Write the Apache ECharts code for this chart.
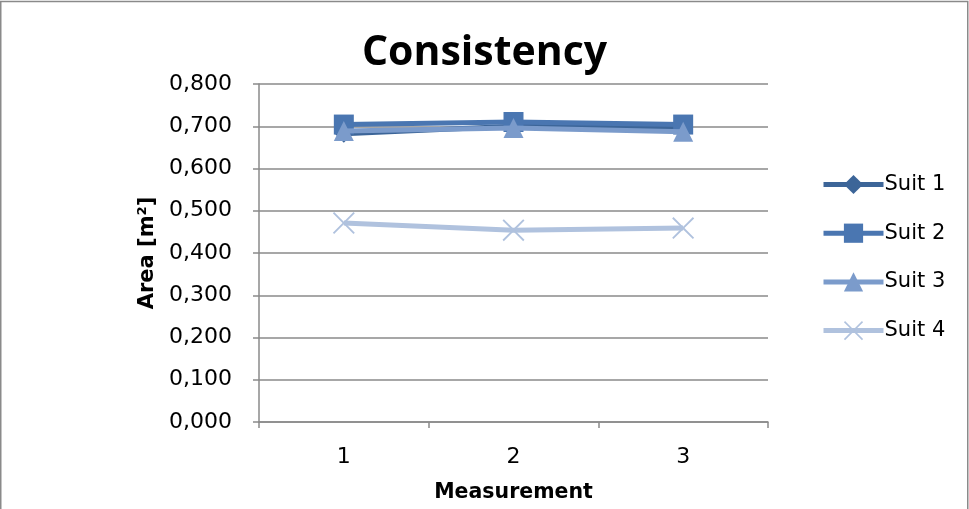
<!DOCTYPE html>
<html>
<head>
<meta charset="utf-8">
<script src="https://cdn.jsdelivr.net/npm/echarts@6/dist/echarts.min.js"></script>
<style>html,body{margin:0;padding:0;background:#fff}#c{width:969px;height:509px}</style>
</head>
<body>
<div id="c"></div>
<script>
const categories = ['1', '2', '3'];
const seriesNames = ['Suit 1', 'Suit 2', 'Suit 3', 'Suit 4'];
const suit1 = [0.682, 0.700, 0.695];
const suit2 = [0.704, 0.710, 0.704];
const suit3 = [0.689, 0.696, 0.687];
const suit4 = [0.471, 0.454, 0.459];
const yTicks = { min: 0, max: 0.8, interval: 0.1 };

const colors = ['#3C6598', '#4A76B1', '#7B9BCB', '#B0C2DE'];
const symbols = ['diamond', 'rect', 'triangle',
  'path://M0,1.2L1.2,0L10,8.8L18.8,0L20,1.2L11.2,10L20,18.8L18.8,20L10,11.2L1.2,20L0,18.8L8.8,10Z'];
const sizes = [18, 20, 20, 22];
const data = [suit1, suit2, suit3, suit4];
const FONT = 'DejaVu Sans';

const chart = echarts.init(document.getElementById('c'), null, { renderer: 'canvas' });
chart.setOption({
  animation: false,
  backgroundColor: '#fff',
  title: {
    text: 'Consistency', left: 'center', top: 28,
    textStyle: { fontFamily: 'Open Sans', fontWeight: 'bold', fontSize: 41, color: '#000' }
  },
  graphic: [{
    type: 'rect', silent: true,
    shape: { x: 0.75, y: 1.5, width: 967, height: 600 },
    style: { fill: 'none', stroke: '#8a8a8a', lineWidth: 1.5 }
  }],
  legend: {
    orient: 'vertical', left: 816, top: 169,
    itemWidth: 60, itemHeight: 24, itemGap: 27.7,
    lineStyle: { width: 5 },
    textStyle: { fontFamily: FONT, fontSize: 21, color: '#000', padding: [0, 0, 0, -4] },
    data: seriesNames
  },
  grid: { left: 259, right: 201, top: 84, bottom: 87, containLabel: false },
  xAxis: {
    type: 'category', data: categories, boundaryGap: true,
    name: 'Measurement', nameLocation: 'middle', nameGap: 60,
    nameTextStyle: { fontFamily: FONT, fontWeight: 'bold', fontSize: 20.5, color: '#000' },
    axisLine: { lineStyle: { color: '#8a8a8a', width: 1.5 } },
    axisTick: { show: true, alignWithLabel: false, length: 6, lineStyle: { color: '#8a8a8a', width: 1.5 } },
    axisLabel: { fontFamily: FONT, fontSize: 22, color: '#000', margin: 24 },
    splitLine: { show: false }
  },
  yAxis: {
    type: 'value', min: yTicks.min, max: yTicks.max, interval: yTicks.interval,
    name: 'Area [m²]', nameLocation: 'middle', nameGap: 97, nameRotate: 90,
    nameTextStyle: { fontFamily: FONT, fontWeight: 'bold', fontSize: 21, color: '#000' },
    axisLine: { show: true, lineStyle: { color: '#8a8a8a', width: 1.5 } },
    axisTick: { show: true, length: 6, lineStyle: { color: '#8a8a8a', width: 1.5 } },
    axisLabel: {
      fontFamily: FONT, fontSize: 22, color: '#000', margin: 27,
      formatter: v => v.toFixed(3).replace('.', ',')
    },
    splitLine: { show: true, lineStyle: { color: '#8a8a8a', width: 1.5 } }
  },
  series: seriesNames.map((name, i) => ({
    name, type: 'line', data: data[i],
    symbol: symbols[i], symbolSize: sizes[i], showAllSymbol: true,
    lineStyle: { color: colors[i], width: 5 },
    itemStyle: { color: colors[i] },
    z: 2 + i
  }))
});
</script>
</body>
</html>
